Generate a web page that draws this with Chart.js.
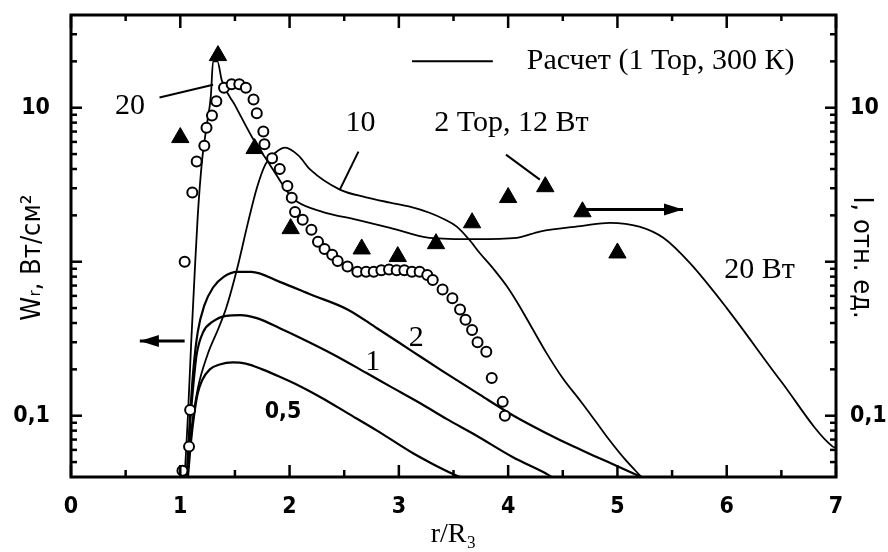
<!DOCTYPE html>
<html>
<head>
<meta charset="utf-8">
<script src="https://cdn.jsdelivr.net/npm/chart.js@4.4.1/dist/chart.umd.min.js"></script>
<style>
  html, body { margin: 0; padding: 0; background: #fff; }
  #wrap { width: 888px; height: 552px; }
</style>
</head>
<body>
<div id="wrap"><canvas id="chart"></canvas></div>
<script>
// Calculated curves (Расчет, 1 Тор, 300 К), one per discharge power
const xP05 = [1.07, 1.10, 1.13, 1.16, 1.20, 1.27, 1.36, 1.48, 1.60, 1.75, 1.91, 2.10, 2.30, 2.53, 2.80, 3.13, 3.30, 3.49, 3.56];
const yP05 = [0.04, 0.07, 0.105, 0.14, 0.17, 0.20, 0.215, 0.222, 0.218, 0.20, 0.179, 0.155, 0.13, 0.104, 0.08, 0.057, 0.049, 0.042, 0.04];

const xP1 = [1.06, 1.09, 1.12, 1.15, 1.21, 1.30, 1.42, 1.55, 1.70, 1.91, 2.10, 2.40, 2.70, 2.92, 3.20, 3.44, 3.70, 4.04, 4.35, 4.40];
const yP1 = [0.04, 0.09, 0.16, 0.25, 0.35, 0.41, 0.445, 0.45, 0.43, 0.37, 0.32, 0.25, 0.19, 0.155, 0.12, 0.095, 0.075, 0.054, 0.042, 0.04];

const xP2 = [1.06, 1.09, 1.12, 1.16, 1.22, 1.30, 1.40, 1.52, 1.65, 1.91, 2.20, 2.53, 2.80, 3.13, 3.40, 3.74, 4.05, 4.35, 4.60, 4.81, 5.00, 5.22];
const yP2 = [0.04, 0.1, 0.2, 0.35, 0.52, 0.68, 0.8, 0.86, 0.86, 0.74, 0.61, 0.49, 0.37, 0.26, 0.195, 0.137, 0.1, 0.077, 0.063, 0.054, 0.047, 0.04];

const xP10 = [1.06, 1.10, 1.16, 1.25, 1.35, 1.42, 1.52, 1.62, 1.70, 1.78, 1.87, 1.96, 2.08, 2.19, 2.46, 2.70, 2.92, 3.10, 3.28, 3.42, 3.53, 3.64, 3.74, 3.87, 3.99, 4.10, 4.22, 4.35, 4.50, 4.66, 4.80, 4.93, 5.07, 5.22];
const yP10 = [0.04, 0.08, 0.15, 0.25, 0.37, 0.5, 0.9, 1.8, 3.0, 4.3, 5.1, 5.5, 4.9, 3.96, 2.94, 2.62, 2.42, 2.28, 2.08, 1.88, 1.69, 1.40, 1.14, 0.89, 0.69, 0.52, 0.37, 0.256, 0.175, 0.125, 0.092, 0.069, 0.052, 0.04];

const xP20 = [1.04, 1.07, 1.10, 1.13, 1.16, 1.20, 1.24, 1.28, 1.30, 1.34, 1.38, 1.50, 1.67, 1.82, 2.00, 2.07, 2.30, 2.62, 2.92, 3.28, 3.70, 4.08, 4.29, 4.68, 4.93, 5.20, 5.42, 5.66, 6.00, 6.49, 6.97, 7.00];
const yP20 = [0.04, 0.1, 0.3, 0.8, 2.0, 4.6, 7.5, 12, 20, 20, 15, 10.4, 6.2, 4.27, 2.73, 2.45, 2.11, 1.87, 1.66, 1.43, 1.40, 1.43, 1.57, 1.71, 1.79, 1.69, 1.43, 0.985, 0.50, 0.17, 0.063, 0.062];

// Measured W_r (open circles, left axis)
const xCircles = [1.02, 1.08, 1.09, 1.04, 1.11, 1.15, 1.22, 1.24, 1.29, 1.33, 1.40, 1.47, 1.54, 1.60, 1.67, 1.70, 1.76, 1.77, 1.84, 1.91, 1.98, 2.02, 2.05, 2.12, 2.20, 2.26, 2.32, 2.39, 2.44, 2.53, 2.62, 2.70, 2.77, 2.84, 2.91, 2.98, 3.05, 3.12, 3.19, 3.26, 3.31, 3.40, 3.49, 3.56, 3.61, 3.67, 3.72, 3.80, 3.85, 3.95, 3.97];
const yCircles = [0.044, 0.063, 0.109, 1.0, 2.81, 4.47, 5.67, 7.4, 8.9, 11.0, 13.5, 14.2, 14.2, 13.5, 11.3, 9.2, 7.0, 5.8, 4.7, 4.0, 3.1, 2.6, 2.1, 1.87, 1.61, 1.35, 1.21, 1.11, 1.01, 0.93, 0.86, 0.86, 0.86, 0.88, 0.89, 0.88, 0.88, 0.86, 0.86, 0.82, 0.76, 0.66, 0.58, 0.49, 0.42, 0.36, 0.30, 0.26, 0.176, 0.123, 0.1];

// Measured I (filled triangles, right axis), 2 Тор, 12 Вт
const xTriangles = [1.00, 1.345, 1.68, 2.01, 2.66, 2.99, 3.34, 3.67, 4.00, 4.34, 4.68, 5.00];
const yTriangles = [6.4, 21.8, 5.43, 1.64, 1.21, 1.08, 1.31, 1.79, 2.61, 3.07, 2.11, 1.14];

// Axes
const xTickValues = [0, 1, 2, 3, 4, 5, 6, 7];
const xTickLabels = ['0', '1', '2', '3', '4', '5', '6', '7'];
const xMinorMarks = [0.5, 1.5, 2.5, 3.5, 4.5, 5.5, 6.5];
const yTickValues = [0.1, 10];
const yTickLabels = ['0,1', '10'];
const yMajorMarks = [0.1, 1, 10];
const yMinorMarks = [0.05, 0.06, 0.07, 0.08, 0.09, 0.2, 0.3, 0.4, 0.5, 0.6, 0.7, 0.8, 0.9, 2, 3, 4, 5, 6, 7, 8, 9, 20, 30];

// Annotations (data coordinates)
const curveLabels = ['20', '10', '2', '1', '20 Вт', '2 Тор, 12 Вт'];
const curveLabelX = [0.54, 2.65, 3.16, 2.76, 6.30, 4.03];
const curveLabelY = [10.3, 7.9, 0.32, 0.224, 0.887, 7.9];
const sansLabel = '0,5';
const sansLabelX = 1.94;
const sansLabelY = 0.106;
const leaders = [
  [0.81, 11.65, 1.30, 14.1],
  [2.63, 5.19, 2.46, 2.94],
  [3.98, 4.96, 4.29, 3.41]
];
const arrows = [
  [1.04, 0.306, 0.63, 0.306],
  [4.70, 2.18, 5.60, 2.18]
];
const legendText = 'Расчет (1 Тор, 300 К)';
const legendLine = [3.12, 3.86, 20];
const legendTextX = 4.17;

const BLACK = '#000';
const SANS = "'DejaVu Sans Condensed', 'Liberation Sans Narrow', 'DejaVu Sans', sans-serif";
const SERIF = "'Liberation Serif', 'DejaVu Serif', serif";

function toPoints(xs, ys) {
  return xs.map((x, i) => ({ x, y: ys[i] }));
}

function curve(xs, ys, width) {
  return {
    data: toPoints(xs, ys),
    borderColor: BLACK,
    borderWidth: width,
    pointRadius: 0,
    cubicInterpolationMode: 'monotone',
    fill: false,
    yAxisID: 'y'
  };
}

const frameAndMarks = {
  id: 'frameAndMarks',
  beforeDraw(chart) {
    const { ctx, width, height } = chart;
    ctx.save();
    ctx.fillStyle = '#fff';
    ctx.fillRect(0, 0, width, height);
    ctx.restore();
  },
  afterDatasetsDraw(chart) {
    const { ctx, chartArea: a, scales } = chart;
    const sx = scales.x;
    const sy = scales.y;
    const seg = (x0, y0, x1, y1) => {
      ctx.beginPath();
      ctx.moveTo(x0, y0);
      ctx.lineTo(x1, y1);
      ctx.stroke();
    };

    ctx.save();
    ctx.strokeStyle = BLACK;
    ctx.fillStyle = BLACK;
    ctx.lineWidth = 2.5;
    ctx.lineCap = 'butt';

    // inward tick marks on all four sides
    xTickValues.forEach(v => {
      const px = sx.getPixelForValue(v);
      seg(px, a.bottom, px, a.bottom - 12);
      seg(px, a.top, px, a.top + 13);
    });
    xMinorMarks.forEach(v => {
      const px = sx.getPixelForValue(v);
      seg(px, a.bottom, px, a.bottom - 7);
      seg(px, a.top, px, a.top + 6);
    });
    yMajorMarks.forEach(v => {
      const py = sy.getPixelForValue(v);
      seg(a.left, py, a.left + 11, py);
      seg(a.right, py, a.right - 11, py);
    });
    yMinorMarks.forEach(v => {
      const py = sy.getPixelForValue(v);
      seg(a.left, py, a.left + 6, py);
      seg(a.right, py, a.right - 6, py);
    });

    ctx.lineWidth = 3;
    ctx.strokeRect(a.left, a.top, a.right - a.left, a.bottom - a.top);

    // leader lines
    ctx.lineWidth = 2;
    leaders.forEach(([x0, y0, x1, y1]) => {
      seg(sx.getPixelForValue(x0), sy.getPixelForValue(y0), sx.getPixelForValue(x1), sy.getPixelForValue(y1));
    });

    // axis arrows
    arrows.forEach(([x0, y0, x1, y1]) => {
      const px0 = sx.getPixelForValue(x0);
      const py0 = sy.getPixelForValue(y0);
      const px1 = sx.getPixelForValue(x1);
      const py1 = sy.getPixelForValue(y1);
      ctx.lineWidth = 3;
      seg(px0, py0, px1, py1);
      const dir = Math.sign(px1 - px0);
      ctx.beginPath();
      ctx.moveTo(px1, py1);
      ctx.lineTo(px1 - dir * 19, py1 - 6);
      ctx.lineTo(px1 - dir * 19, py1 + 6);
      ctx.closePath();
      ctx.fill();
    });

    // legend
    ctx.lineWidth = 2;
    const ly = sy.getPixelForValue(legendLine[2]);
    seg(sx.getPixelForValue(legendLine[0]), ly, sx.getPixelForValue(legendLine[1]), ly);
    ctx.textBaseline = 'middle';
    ctx.textAlign = 'left';
    ctx.font = `30px ${SERIF}`;
    ctx.fillText(legendText, sx.getPixelForValue(legendTextX), ly);

    // curve labels
    ctx.textAlign = 'center';
    curveLabels.forEach((t, i) => {
      ctx.fillText(t, sx.getPixelForValue(curveLabelX[i]), sy.getPixelForValue(curveLabelY[i]));
    });
    ctx.font = `bold 23px ${SANS}`;
    ctx.fillText(sansLabel, sx.getPixelForValue(sansLabelX), sy.getPixelForValue(sansLabelY));

    ctx.restore();
  }
};

const tickFont = { family: SANS, size: 23, weight: 'bold', lineHeight: 1 };
const titleFont = { family: SANS, size: 27, lineHeight: 1 };

const yAxisBase = {
  type: 'logarithmic',
  min: 0.04,
  max: 40,
  grid: { display: false, drawTicks: false },
  border: { display: false },
  afterBuildTicks: s => { s.ticks = yTickValues.map(v => ({ value: v })); },
  ticks: {
    color: BLACK,
    font: tickFont,
    autoSkip: false,
    callback: v => yTickLabels[yTickValues.indexOf(v)]
  }
};

function fixVertical(width) {
  return s => {
    s.width = width;
    s.paddingTop = 0;
    s.paddingBottom = 0;
  };
}

new Chart(document.getElementById('chart').getContext('2d'), {
  type: 'line',
  data: {
    datasets: [
      {
        data: toPoints(xTriangles, yTriangles),
        showLine: false,
        pointStyle: 'triangle',
        pointRadius: 10,
        pointBackgroundColor: BLACK,
        pointBorderColor: BLACK,
        pointBorderWidth: 1,
        yAxisID: 'y2'
      },
      {
        data: toPoints(xCircles, yCircles),
        showLine: false,
        pointStyle: 'circle',
        pointRadius: 5,
        pointBackgroundColor: '#fff',
        pointBorderColor: BLACK,
        pointBorderWidth: 2,
        yAxisID: 'y'
      },
      curve(xP20, yP20, 1.8),
      curve(xP10, yP10, 1.8),
      curve(xP2, yP2, 2.2),
      curve(xP1, yP1, 2.2),
      curve(xP05, yP05, 2.2)
    ]
  },
  options: {
    responsive: true,
    maintainAspectRatio: false,
    animation: false,
    layout: { padding: { top: 15, left: 0, right: 0, bottom: 0 } },
    plugins: {
      legend: { display: false },
      tooltip: { enabled: false }
    },
    scales: {
      x: {
        type: 'linear',
        min: 0,
        max: 7,
        position: 'bottom',
        grid: { display: false, drawTicks: false },
        border: { display: false },
        afterBuildTicks: s => { s.ticks = xTickValues.map(v => ({ value: v })); },
        afterFit: s => { s.height = 75; },
        ticks: {
          color: BLACK,
          font: tickFont,
          padding: 19,
          maxRotation: 0,
          autoSkip: false,
          callback: v => xTickLabels[xTickValues.indexOf(v)]
        },
        title: {
          display: true,
          text: 'r/R₃',
          color: BLACK,
          font: { family: SERIF, size: 28, lineHeight: 1 },
          padding: { top: 0, bottom: 3 }
        }
      },
      y: {
        ...yAxisBase,
        position: 'left',
        afterFit: fixVertical(71),
        ticks: { ...yAxisBase.ticks, padding: 21 },
        title: {
          display: true,
          text: 'Wᵣ, Вт/см²   ',
          color: BLACK,
          font: titleFont,
          padding: { top: 19, bottom: 0 }
        }
      },
      y2: {
        ...yAxisBase,
        position: 'right',
        afterFit: fixVertical(52),
        ticks: { ...yAxisBase.ticks, padding: 14 },
        title: {
          display: true,
          text: '   I, отн. ед.',
          color: BLACK,
          font: titleFont,
          padding: { top: 13, bottom: 0 }
        }
      }
    }
  },
  plugins: [frameAndMarks]
});
</script>
</body>
</html>
